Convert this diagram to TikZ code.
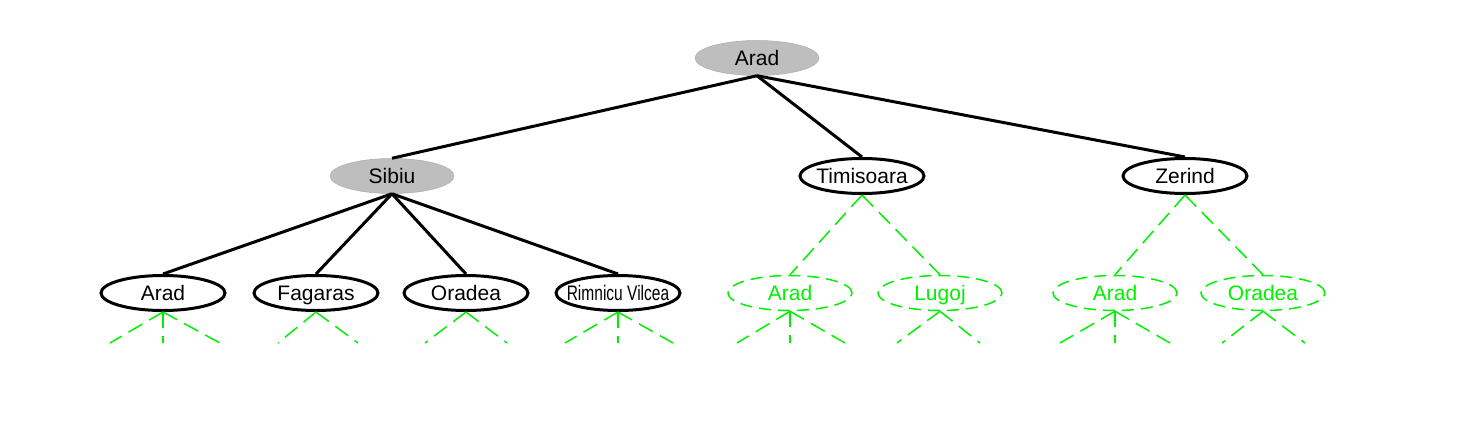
\documentclass[tikz,border=0pt]{standalone}
\usepackage{fontspec}
\setmainfont{Liberation Sans}
\usetikzlibrary{shapes.geometric}
\definecolor{grn}{RGB}{0,240,0}
\definecolor{gry}{RGB}{190,190,190}
\newcommand\lbl[1]{\makebox[0pt]{#1}}
\tikzset{
  nd/.style={ellipse, minimum width=124pt, minimum height=35pt, inner sep=0pt,
    text height=16pt, text depth=1pt,
    font=\fontsize{21}{21}\selectfont},
  expanded/.style={nd, fill=gry, draw=gry!90!black, line width=0.5pt},
  frontier/.style={nd, draw=black, line width=3pt},
  unseen/.style={nd, draw=grn, text=grn, line width=1.5pt, dash pattern=on 12pt off 7pt},
  tree/.style={line width=3pt, black},
  gtree/.style={line width=1.5pt, grn, dash pattern=on 16pt off 8pt},
}
\begin{document}
\begin{tikzpicture}[x=1pt,y=-1pt]
\useasboundingbox (0,0) rectangle (1483,433);
\node[expanded] (a0) at (757,58) {\lbl{Arad}};
\node[expanded] (s) at (392,176) {\lbl{Sibiu}};
\node[frontier] (t) at (862,176) {\lbl{Timisoara}};
\node[frontier] (z) at (1185,176) {\lbl{Zerind}};
\node[frontier] (sa) at (163,293) {\lbl{Arad}};
\node[frontier] (sf) at (316,293) {\lbl{Fagaras}};
\node[frontier] (so) at (466,293) {\lbl{Oradea}};
\node[frontier] (sr) at (618,293) {\lbl{\scalebox{0.74}[1]{Rimnicu Vilcea}}};
\node[unseen] (ta) at (790,293) {\lbl{Arad}};
\node[unseen] (tl) at (940,293) {\lbl{Lugoj}};
\node[unseen] (za) at (1115,293) {\lbl{Arad}};
\node[unseen] (zo) at (1263,293) {\lbl{Oradea}};
\draw[tree] (a0.south) -- (s.north);
\draw[tree] (a0.south) -- (t.north);
\draw[tree] (a0.south) -- (z.north);
\foreach \c in {sa,sf,so,sr} \draw[tree] (s.south) -- (\c.north);
\draw[gtree] (t.south) -- (ta.north);
\draw[gtree] (t.south) -- (tl.north);
\draw[gtree] (z.south) -- (za.north);
\draw[gtree] (z.south) -- (zo.north);
% stubs
\coordinate (e1) at (110,343); \coordinate (e2) at (163,343); \coordinate (e3) at (220,343);
\coordinate (e4) at (278,343); \coordinate (e5) at (358,343);
\coordinate (e6) at (425,343); \coordinate (e7) at (507,343);
\coordinate (e8) at (565,343); \coordinate (e9) at (618,343); \coordinate (e10) at (673,343);
\coordinate (e11) at (737,343); \coordinate (e12) at (790,343); \coordinate (e13) at (845,343);
\coordinate (e14) at (897,343); \coordinate (e15) at (980,343);
\coordinate (e16) at (1060,343); \coordinate (e17) at (1115,343); \coordinate (e18) at (1170,343);
\coordinate (e19) at (1222,343); \coordinate (e20) at (1305,343);
\foreach \n/\e in {sa/e1,sa/e2,sa/e3,sf/e4,sf/e5,so/e6,so/e7,sr/e8,sr/e9,sr/e10,
  ta/e11,ta/e12,ta/e13,tl/e14,tl/e15,za/e16,za/e17,za/e18,zo/e19,zo/e20}
  \draw[gtree] (\n.south) -- (\e);
\end{tikzpicture}
\end{document}
